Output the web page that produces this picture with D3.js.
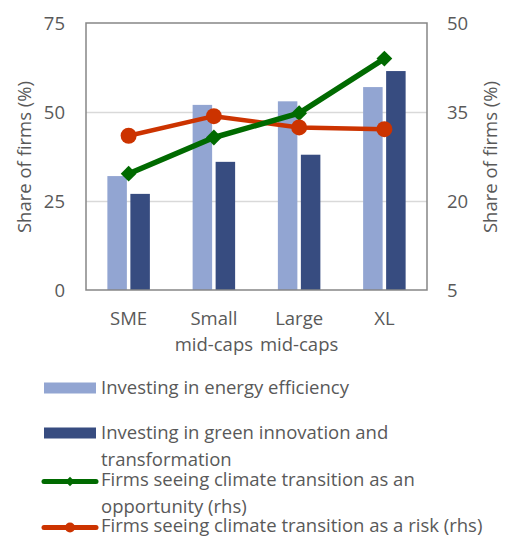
<!DOCTYPE html>
<html>
<head>
<meta charset="utf-8">
<script src="https://cdn.jsdelivr.net/npm/d3@7"></script>
<style>
  html, body { margin: 0; padding: 0; background: #fff; }
  svg text { font-family: "Open Sans", Lato, sans-serif; fill: #595959; }
</style>
</head>
<body>
<svg id="chart" width="505" height="541"></svg>
<script>
// Firm size categories (second line after the newline)
const categories = ["SME", "Small\nmid-caps", "Large\nmid-caps", "XL"];
// Bars, left axis (% of firms)
const energyEfficiency = [32, 52, 53, 57];
const greenInnovation = [27, 36, 38, 61.5];
// Lines, right axis (% of firms)
const opportunity = [24.6, 30.7, 34.8, 44.0];
const risk = [31.0, 34.3, 32.4, 32.1];
// Axis ticks
const leftTicks = [0, 25, 50, 75];
const rightTicks = [5, 20, 35, 50];

const legendItems = [
  { type: "bar", color: "#92A5D2", lines: ["Investing in energy efficiency"] },
  { type: "bar", color: "#374C80", lines: ["Investing in green innovation and", "transformation"] },
  { type: "line", marker: "diamond", color: "#006A00", lines: ["Firms seeing climate transition as an", "opportunity (rhs)"] },
  { type: "line", marker: "circle", color: "#CC3300", lines: ["Firms seeing climate transition as a risk (rhs)"] }
];

const svg = d3.select("#chart");
const plot = { left: 86, right: 427, top: 23, bottom: 290 };

const x = d3.scaleBand().domain(categories).range([plot.left, plot.right]).paddingInner(0).paddingOuter(0);
const yL = d3.scaleLinear().domain([0, 75]).range([plot.bottom, plot.top]);
const yR = d3.scaleLinear().domain([5, 50]).range([plot.bottom, plot.top]);

const barW = 19.5, barGap = 3.5;

// Gridlines
svg.append("g")
  .attr("transform", `translate(${plot.left},0)`)
  .call(d3.axisLeft(yL).tickValues(leftTicks.slice(1, -1)).tickSize(-(plot.right - plot.left)).tickFormat(""))
  .call(g => g.select(".domain").remove())
  .call(g => g.selectAll("line").attr("stroke", "#D9D9D9").attr("stroke-width", 1.5));

// Bars
const barSeries = [
  { values: energyEfficiency, color: legendItems[0].color, offset: -barGap / 2 - barW },
  { values: greenInnovation, color: legendItems[1].color, offset: barGap / 2 }
];
barSeries.forEach(s => {
  svg.append("g").selectAll("rect").data(s.values).join("rect")
    .attr("x", (d, i) => x(categories[i]) + x.bandwidth() / 2 + s.offset)
    .attr("width", barW)
    .attr("y", d => yL(d))
    .attr("height", d => yL(0) - yL(d))
    .attr("fill", s.color);
});

// Plot frame
svg.append("rect")
  .attr("x", plot.left).attr("y", plot.top)
  .attr("width", plot.right - plot.left).attr("height", plot.bottom - plot.top)
  .attr("fill", "none").attr("stroke", "#868686").attr("stroke-width", 1.5);

// Lines
const cx = (d, i) => x(categories[i]) + x.bandwidth() / 2;
const line = d3.line().x(cx).y(d => yR(d));

svg.append("path").datum(risk)
  .attr("d", line).attr("fill", "none")
  .attr("stroke", legendItems[3].color).attr("stroke-width", 4.5).attr("stroke-linejoin", "round");
svg.append("path").datum(opportunity)
  .attr("d", line).attr("fill", "none")
  .attr("stroke", legendItems[2].color).attr("stroke-width", 5.5).attr("stroke-linejoin", "round");

svg.append("g").selectAll("path").data(opportunity).join("path")
  .attr("transform", (d, i) => `translate(${cx(d, i)},${yR(d)}) rotate(45)`)
  .attr("d", d3.symbol().type(d3.symbolSquare).size(125))
  .attr("fill", legendItems[2].color);

svg.append("g").selectAll("circle").data(risk).join("circle")
  .attr("cx", cx).attr("cy", d => yR(d)).attr("r", 8)
  .attr("fill", legendItems[3].color);

// Axes (labels only)
const fs = 18.5;
const leftAxis = svg.append("g")
  .attr("transform", `translate(${plot.left},0)`)
  .call(d3.axisLeft(yL).tickValues(leftTicks).tickSize(0).tickPadding(21));
leftAxis.select(".domain").remove();
leftAxis.selectAll("text").attr("font-size", fs).attr("font-family", null).attr("dy", "0.35em");

const rightAxis = svg.append("g")
  .attr("transform", `translate(${plot.right},0)`)
  .call(d3.axisRight(yR).tickValues(rightTicks).tickSize(0).tickPadding(20));
rightAxis.select(".domain").remove();
rightAxis.selectAll("text").attr("font-size", fs).attr("font-family", null).attr("dy", "0.35em");

// Category labels
const xLabels = svg.append("g").selectAll("text").data(categories).join("text")
  .attr("x", (d, i) => cx(d, i))
  .attr("y", 325)
  .attr("text-anchor", "middle")
  .attr("font-size", fs);
xLabels.selectAll("tspan").data(d => d.split("\n")).join("tspan")
  .attr("x", function () { return d3.select(this.parentNode).attr("x"); })
  .attr("dy", (d, i) => i === 0 ? 0 : 26)
  .text(d => d);

// Axis titles
const midY = 157;
svg.append("text")
  .attr("transform", `translate(31,${midY}) rotate(-90)`)
  .attr("text-anchor", "middle").attr("font-size", fs)
  .text("Share of firms (%)");
svg.append("text")
  .attr("transform", `translate(497,${midY}) rotate(-90)`)
  .attr("text-anchor", "middle").attr("font-size", fs)
  .text("Share of firms (%)");

// Legend
const legendRows = [388, 433, 480, 526];
const legend = svg.append("g");
legendItems.forEach((item, k) => {
  const y0 = legendRows[k];
  const g = legend.append("g");
  if (item.type === "bar") {
    g.append("rect").attr("x", 44).attr("y", y0 - 5.5).attr("width", 52).attr("height", 11).attr("fill", item.color);
  } else {
    g.append("line").attr("x1", 44).attr("x2", 96).attr("y1", y0 + 1.5).attr("y2", y0 + 1.5)
      .attr("stroke", item.color).attr("stroke-width", 5).attr("stroke-linecap", "round");
    if (item.marker === "diamond") {
      g.append("path").attr("transform", `translate(70,${y0 + 1.5}) rotate(45)`)
        .attr("d", d3.symbol().type(d3.symbolSquare).size(45)).attr("fill", item.color);
    } else {
      g.append("circle").attr("cx", 70).attr("cy", y0 + 1.5).attr("r", 5).attr("fill", item.color);
    }
  }
  const t = g.append("text").attr("x", 101).attr("y", y0).attr("font-size", fs);
  t.selectAll("tspan").data(item.lines).join("tspan")
    .attr("x", 101).attr("dy", (d, i) => i === 0 ? "0.35em" : 27)
    .text(d => d);
});
</script>
</body>
</html>
